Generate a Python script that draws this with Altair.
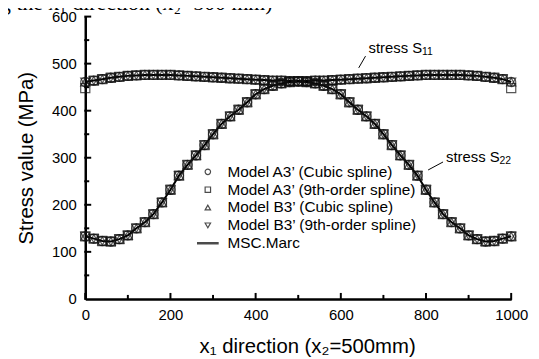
import altair as alt
import pandas as pd

# ---------------- data ----------------
x_pos = [0, 20, 40, 60, 80, 100, 120, 140, 160, 180, 200, 220, 240, 260, 280, 300,
         320, 340, 360, 380, 400, 420, 440, 460, 480, 500, 520, 540, 560, 580, 600,
         620, 640, 660, 680, 700, 720, 740, 760, 780, 800, 820, 840, 860, 880, 900,
         920, 940, 960, 980, 1000]

s11 = [461, 464, 467, 470, 472, 474, 475, 476, 476, 476, 476, 475, 474, 473, 472, 471,
       470, 469, 468, 467, 466, 465, 464, 464, 463, 463, 463, 464, 464, 465, 466,
       467, 468, 469, 470, 471, 472, 473, 474, 475, 476, 476, 476, 476, 476, 475,
       474, 472, 470, 467, 461]

s22 = [133, 128, 123, 122, 127, 135, 150, 163, 180, 205, 232, 262, 285, 305, 327, 350,
       372, 388, 402, 418, 435, 446, 453, 458, 461, 462, 461, 458, 453, 446, 435,
       418, 402, 388, 372, 350, 327, 305, 285, 262, 232, 205, 180, 163, 150, 135,
       127, 122, 123, 128, 133]

models = ["Model A3\u2019 (Cubic spline)",
          "Model A3\u2019 (9th-order spline)",
          "Model B3\u2019 (Cubic spline)",
          "Model B3\u2019 (9th-order spline)"]
marc_label = "MSC.Marc"
# end values of S11 that differ for Model A3' (9th-order spline)
a3_9th_s11_ends = {0: 448, 1000: 448}

x_major = [0, 200, 400, 600, 800, 1000]
x_minor = [100, 300, 500, 700, 900]
y_major = [100, 200, 300, 400, 500, 600]
y_minor = [50, 150, 250, 350, 450, 550]

title_text = "g the x\u2081 direction (x\u2082=500 mm)"
x_title = "x\u2081 direction (x\u2082=500mm)"
y_title = "Stress value (MPa)"

# annotations
ann_base = ["stress S", "stress S"]
ann_sub = ["11", "22"]
ann_x = [665, 847]
ann_y = [533, 301]
lead_x1 = [642, 805]
lead_y1 = [491, 274]
lead_x2 = [658, 840]
lead_y2 = [516, 291]

# ---------------- tables ----------------
rows = []
for m in models:
    for comp, vals in (("S11", s11), ("S22", s22)):
        for xv, v in zip(x_pos, vals):
            if m == models[1] and comp == "S11" and xv in a3_9th_s11_ends:
                v = a3_9th_s11_ends[xv]
            rows.append({"x": xv, "v": v, "model": m, "comp": comp})
pts = pd.DataFrame(rows)

marc = pd.DataFrame(
    [{"x": xv, "v": v, "comp": "S11"} for xv, v in zip(x_pos, s11)]
    + [{"x": xv, "v": v, "comp": "S22"} for xv, v in zip(x_pos, s22)]
)

ann = pd.DataFrame({"x": ann_x, "v": ann_y, "base": ann_base, "sub": ann_sub})
lead = pd.DataFrame({"x": lead_x1, "v": lead_y1, "x2": lead_x2, "v2": lead_y2})

FONT = "Liberation Sans"

xscale = alt.Scale(domain=[0, 1000], nice=False, zero=False)
yscale = alt.Scale(domain=[0, 600], nice=False, zero=False)
xaxis = alt.Axis(values=x_major, format="d", ticks=False, tickSize=0, grid=False,
                 domainColor="black", domainWidth=2.5, labelFont=FONT, labelFontSize=15,
                 labelColor="black", labelPadding=9, titleFont=FONT, titleFontSize=20.5,
                 titleFontWeight="normal", titleColor="black", titlePadding=14,
                 titleX=224, labelFlush=False)
yaxis = alt.Axis(values=[0] + y_major, format="d", ticks=False, tickSize=0, grid=False,
                 domainColor="black", domainWidth=2.5, labelFont=FONT, labelFontSize=15,
                 labelColor="black", labelPadding=9, titleFont=FONT, titleFontSize=20.5,
                 titleFontWeight="normal", titleColor="black", titlePadding=15,
                 labelFlush=False)


def X(field):
    return alt.X(f"{field}:Q", scale=xscale, axis=xaxis, title=x_title)


def Y(field):
    return alt.Y(f"{field}:Q", scale=yscale, axis=yaxis, title=y_title)


line_sym = "M-4,-0.25L4,-0.25M-4,0L4,0M-4,0.25L4,0.25"

line = alt.Chart(marc).mark_line(color="black", strokeWidth=2).encode(
    x=X("x"), y=Y("v"), detail="comp:N"
)

points = alt.Chart(pts).mark_point(filled=False, size=85, strokeWidth=1.2, color="#111").encode(
    x=X("x"), y=Y("v"),
    shape=alt.Shape(
        "model:N",
        scale=alt.Scale(domain=models + [marc_label],
                        range=["circle", "square", "triangle-up", "triangle-down", line_sym]),
        legend=alt.Legend(title=None, orient="none", legendX=116, legendY=149,
                          padding=0, labelFont=FONT, labelFontSize=15.5, labelColor="black",
                          labelLimit=0,
                          symbolSize=30, symbolStrokeWidth=1.2, symbolStrokeColor="black",
                          symbolFillColor="transparent", rowPadding=1, labelOffset=12),
    ),
)

xt_major = alt.Chart(pd.DataFrame({"x": x_major})).mark_rule(color="black", strokeWidth=2).encode(
    x=X("x"), y=alt.value(286), y2=alt.value(279))
xt_minor = alt.Chart(pd.DataFrame({"x": x_minor})).mark_rule(color="black", strokeWidth=2).encode(
    x=X("x"), y=alt.value(286), y2=alt.value(281))
yt_major = alt.Chart(pd.DataFrame({"v": y_major})).mark_rule(color="black", strokeWidth=2).encode(
    y=Y("v"), x=alt.value(-1), x2=alt.value(6))
yt_minor = alt.Chart(pd.DataFrame({"v": y_minor})).mark_rule(color="black", strokeWidth=2).encode(
    y=Y("v"), x=alt.value(-1), x2=alt.value(4))

leaders = alt.Chart(lead).mark_rule(color="black", strokeWidth=1).encode(
    x=X("x"), y=Y("v"), x2="x2:Q", y2="v2:Q")
ann_text = alt.Chart(ann).mark_text(align="left", baseline="middle", font=FONT,
                                    fontSize=15, color="black").encode(
    x=X("x"), y=Y("v"), text="base:N")
ann_subt = alt.Chart(ann).mark_text(align="left", baseline="middle", font=FONT,
                                    fontSize=10.5, color="black", dx=54, dy=4).encode(
    x=X("x"), y=Y("v"), text="sub:N")

top_title = alt.Chart(pd.DataFrame({"t": [title_text]})).mark_text(
    align="left", baseline="alphabetic", font="Liberation Serif", fontSize=22, color="black"
).encode(x=alt.value(-86), y=alt.value(-7), text="t:N")

chart = alt.layer(
    line, points, xt_major, xt_minor, yt_major, yt_minor, leaders, ann_text, ann_subt, top_title
).properties(
    width=430, height=285,
    autosize=alt.AutoSizeParams(type="none"),
    padding={"left": 78, "top": 7, "right": 20, "bottom": 58},
).configure_view(stroke=None)

chart.save("out.html", embed_options={"renderer": "svg", "actions": False})
